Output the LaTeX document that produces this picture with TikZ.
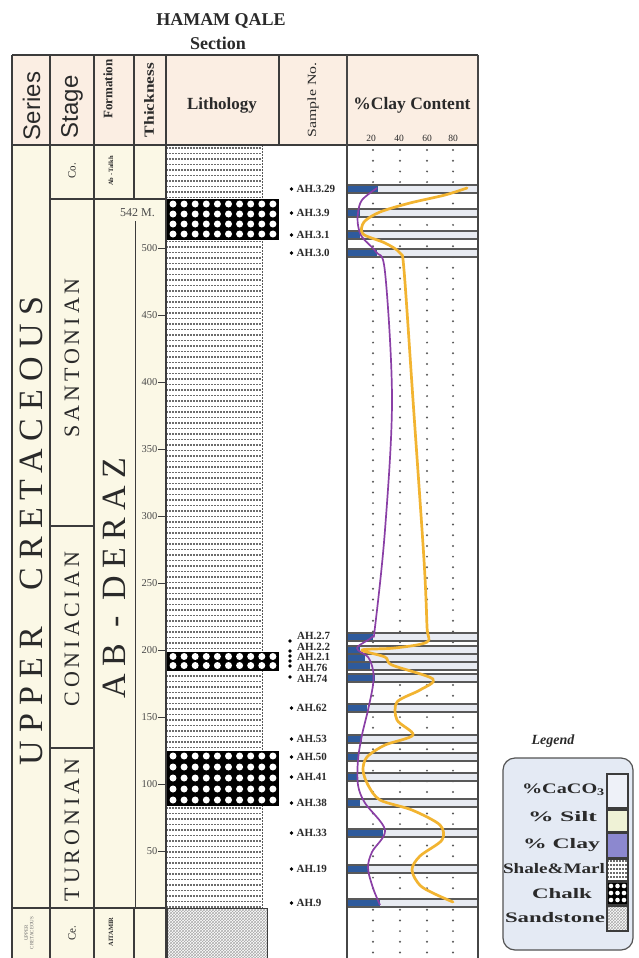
\documentclass[tikz,border=0pt]{standalone}
\usepackage{fontspec}
\setmainfont{Liberation Serif}
\newfontfamily\sansf{Liberation Sans}
\newfontfamily\spacedA[LetterSpace=24]{Liberation Serif}
\newfontfamily\spacedB[LetterSpace=18]{Liberation Serif}
\newfontfamily\spacedC[LetterSpace=22]{Liberation Serif}
\usetikzlibrary{patterns}
\definecolor{hdr}{HTML}{FBEEE3}
\definecolor{cream}{HTML}{FBF8E6}
\definecolor{ln}{HTML}{3C3C3C}
\definecolor{txt}{HTML}{2A2A2A}
\definecolor{barblue}{HTML}{2E5A9C}
\definecolor{barfill}{HTML}{E8EBF2}
\definecolor{clayc}{HTML}{8A3FA6}
\definecolor{silto}{HTML}{F2B431}
\definecolor{legbg}{HTML}{E4EAF4}
\definecolor{caco}{HTML}{EEF1F8}
\definecolor{siltc}{HTML}{EFF2D6}
\definecolor{claysw}{HTML}{8C88CF}
\newcommand\chalkbed[3]{%
  \begin{scope}
    \clip (167,#1) rectangle (278,#2);
    \fill[black] (167,#1) rectangle (278,#2);
    \foreach \cy in {#3} \foreach \cx in {0,...,9} \fill[white] ({173+\cx*11.1},\cy) circle (3.5);
  \end{scope}
  \draw[black, line width=0.8pt] (167,#1) rectangle (278,#2);
}
\newcommand\wide[2]{\resizebox{#1}{\height}{#2}}
\begin{document}
\begin{tikzpicture}[x=1pt,y=-1pt,
  gridl/.style={draw=ln, line width=1.4pt},
  hdrtext/.style={text=txt, inner sep=0pt},
  ticklab/.style={font=\fontsize{10.5}{10.5}\selectfont, text=txt!85, inner sep=0.5pt},
  samplab/.style={font=\bfseries\fontsize{11}{11}\selectfont, text=txt, anchor=west, inner sep=0pt},
  shaledots/.style={draw=gray!85!black, line width=1.7pt, dash pattern=on 1.5pt off 1.5pt},
  vdots/.style={draw=gray!70!black, line width=2.2pt, dash pattern=on 0pt off 10.7pt, line cap=round},
  legtext/.style={font=\bfseries\fontsize{14.5}{14.5}\selectfont, text=txt, inner sep=0pt},
  swatch/.style={draw=ln, line width=1.1pt}
]
\useasboundingbox (0,0) rectangle (638,958);
\fill[white] (0,0) rectangle (638,958);

% title
\node[hdrtext, font=\bfseries\fontsize{18}{18}\selectfont] (title) at (221,21) {HAMAM QALE};
\node[hdrtext, font=\bfseries\fontsize{18}{18}\selectfont] (subtitle) at (218,43) {Section};

% fills
\fill[hdr] (12,55) rectangle (478,145);
\fill[cream] (12,145) rectangle (166,958);

% header texts
\node[hdrtext, rotate=90, font=\sansf\fontsize{24}{24}\selectfont] (hseries) at (31.5,106) {Series};
\node[hdrtext, rotate=90, font=\sansf\fontsize{24}{24}\selectfont] (hstage) at (72,107) {Stage};
\node[hdrtext, rotate=90, font=\bfseries\fontsize{13}{13}\selectfont] (hform) at (108,89) {Formation};
\node[hdrtext, rotate=90, font=\bfseries\fontsize{14}{14}\selectfont] (hthick) at (149,100) {\wide{74pt}{Thickness}};
\node[hdrtext, font=\bfseries\fontsize{17}{17}\selectfont] (hlith) at (222,105) {Lithology};
\node[hdrtext, rotate=90, font=\fontsize{12.5}{12.5}\selectfont] (hsample) at (313,100) {\wide{75pt}{Sample No.}};
\node[hdrtext, font=\bfseries\fontsize{17.5}{17.5}\selectfont] (hclay) at (412,105) {\%Clay Content};
\foreach \xx/\vv in {371/20,399/40,427/60,453/80}
  \node[hdrtext, font=\fontsize{9.5}{9.5}\selectfont] (sc\vv) at (\xx,138) {\vv};

% lithology: shale background
\fill[white] (166,145) rectangle (262,908);
\begin{scope}
  \clip (166,145) rectangle (262,908);
  \foreach \yy in {148,153.5,...,908} \draw[shaledots] (166,\yy) -- (262,\yy);
\end{scope}
\draw[gray!70!black, line width=1pt, dash pattern=on 1.5pt off 1.5pt] (166,145) -- (262,145) -- (262,908);
% chalk beds
\chalkbed{199}{239}{204,214,224,234}
\chalkbed{652}{670}{656.5,665.5}
\chalkbed{751}{805}{756,767,778,789,800}
% sandstone
\fill[white] (167,908) rectangle (267,958);
\fill[pattern=crosshatch, pattern color=gray!65] (167,908) rectangle (267,958);
\draw[ln, line width=0.9pt] (167,958) -- (167,908) -- (267,908) -- (267,958);

% grid lines
\draw[gridl] (12,55) -- (478,55);
\draw[gridl] (12,145) -- (478,145);
\foreach \xx in {12,50,94,166} \draw[gridl] (\xx,55) -- (\xx,958);
\draw[gridl] (134,55) -- (134,199);
\draw[gridl] (134,908) -- (134,958);
\draw[gridl] (279,55) -- (279,145);
\draw[gridl] (50,199) -- (166,199);
\draw[gridl] (50,526) -- (94,526);
\draw[gridl] (50,748) -- (94,748);
\draw[gridl] (12,908) -- (166,908);

% thickness scale
\draw[ln, line width=1pt] (135,221) -- (135,908);
\node[ticklab, font=\fontsize{12}{12}\selectfont] (top542) at (137.5,213) {542 M.};
\foreach \m in {50,100,...,500} {
  \pgfmathsetmacro\ty{918-1.34*\m}
  \draw[ln, line width=0.9pt] (158,\ty) -- (166,\ty);
  \node[ticklab, anchor=east] (t\m) at (158,\ty) {\m};
}

% series / stage / formation labels
\node[hdrtext, rotate=90, font=\spacedA\fontsize{34}{34}\selectfont] (series) at (31,531) {UPPER\hspace{36pt}CRETACEOUS};
\node[hdrtext, rotate=90, font=\spacedB\fontsize{22}{22}\selectfont] (santon) at (72,358) {SANTONIAN};
\node[hdrtext, rotate=90, font=\spacedB\fontsize{22}{22}\selectfont] (coniac) at (72,629) {CONIACIAN};
\node[hdrtext, rotate=90, font=\spacedB\fontsize{22}{22}\selectfont] (turon) at (72,830) {TURONIAN};
\node[hdrtext, rotate=90, font=\spacedC\fontsize{34}{34}\selectfont] (abderaz) at (114.5,578) {AB - DERAZ};
\node[hdrtext, rotate=90, font=\fontsize{11}{11}\selectfont] (co) at (72,171) {Co.};
\node[hdrtext, rotate=90, font=\fontsize{11}{11}\selectfont] (ce) at (72,933) {Ce.};
\node[hdrtext, rotate=90, font=\bfseries\fontsize{6.5}{6.5}\selectfont] (abtalkh) at (111,171) {Ab - Talkh};
\node[hdrtext, rotate=90, font=\bfseries\fontsize{6.5}{6.5}\selectfont] (aitamir) at (111,932) {AITAMIR};
\node[hdrtext, rotate=90, align=center, text=txt!70, font=\fontsize{5}{5.5}\selectfont] (lowser) at (29,933) {UPPER\\CRETACEOUS};

% clay content column: dotted grid
\foreach \xx in {373,400,427,453} \draw[vdots] (\xx,150) -- (\xx,958);

% bars
\foreach \yy/\bx in {189/378,213/360,235/360,253/377,637/373,650/360,658/365,666/370,678/375,708/367,739/362,757/359,777/358,803/360,833/383,869/368,903/380} {
  \fill[barfill] (347,\yy-4) rectangle (478,\yy+4);
  \fill[barblue] (347,\yy-4) rectangle (\bx,\yy+4);
  \draw[ln!85, line width=1.6pt] (347,\yy-4) rectangle (478,\yy+4);
}

% curves
\draw[clayc, line width=1.7pt, line join=round] plot[smooth, tension=0.55] coordinates {
 (377,188) (362,200) (358,213) (358,225) (362,237) (376,252) (385,272) (392,400) (385,530) (375,627) (372,637) (357,648) (368,657) (373,670) (373,685) (368,710) (362,735) (358,760) (358,785) (365,803) (385,830) (372,852) (368,868) (373,888) (380,905)};
\draw[silto, line width=2.7pt, line join=round, line cap=round] plot[smooth, tension=0.5] coordinates {
 (467,188) (445,195) (410,203) (380,212) (364,222) (363,234) (385,243) (400,253) (404,270) (413,400) (424,560) (427,627) (427,642) (395,648) (362,650) (385,657) (392,665) (433,679) (420,690) (397,702) (397,720) (413,735) (385,745) (367,757) (363,770) (368,785) (380,800) (412,810) (440,825) (442,840) (420,856) (412,870) (422,887) (453,902)};

% clay column borders
\draw[gray!55!black, line width=2pt] (347,55) -- (347,958);
\draw[gray!55!black, line width=2pt] (478,55) -- (478,958);

% samples
\foreach \yy/\lab/\nm in {189/AH.3.29/a,213/AH.3.9/b,235/AH.3.1/c,253/AH.3.0/d,708/AH.62/j,739/AH.53/k,757/AH.50/l,777/AH.41/m,803/AH.38/n,833/AH.33/o,869/AH.19/p,903/AH.9/q} {
  \fill[black] (291.5,\yy) circle (1.9);
  \node[samplab] (smp\nm) at (296.5,\yy) {\lab};
}
\foreach \yy/\lab/\nm in {636/AH.2.7/e,647/AH.2.2/f,657/AH.2.1/g,668/AH.76/h,679/AH.74/i}
  \node[samplab] (smp\nm) at (297,\yy) {\lab};
\foreach \yy in {641,651,656,661,666,677} \fill[black] (290,\yy) circle (1.9);

% legend
\node[font=\bfseries\itshape\fontsize{14}{14}\selectfont, text=txt, inner sep=0pt] (legtitle) at (553,741) {Legend};
\draw[rounded corners=12pt, fill=legbg, draw=gray!65!black, line width=1.2pt] (503,758) rectangle (633,950);
\fill[caco] (607,774) rectangle (628,808); \draw[swatch] (607,774) rectangle (628,808);
\fill[siltc] (607,810) rectangle (628,832); \draw[swatch] (607,810) rectangle (628,832);
\fill[claysw] (607,833) rectangle (628,858); \draw[swatch] (607,833) rectangle (628,858);
\fill[white] (607,859) rectangle (628,881);
\begin{scope}
  \clip (607,859) rectangle (628,881);
  \foreach \yy in {861,865,...,881} \draw[shaledots, line width=1.2pt] (607,\yy) -- (628,\yy);
\end{scope}
\draw[swatch] (607,859) rectangle (628,881);
\begin{scope}
  \clip (607,882) rectangle (628,905);
  \fill[black] (607,882) rectangle (628,905);
  \foreach \cy in {886,893,900} \foreach \cx in {611,617.5,624} \fill[white] (\cx,\cy) circle (2.3);
\end{scope}
\draw[swatch] (607,882) rectangle (628,905);
\fill[white] (607,906) rectangle (628,931);
\fill[pattern=crosshatch, pattern color=gray!65] (607,906) rectangle (628,931);
\draw[swatch] (607,906) rectangle (628,931);
\node[legtext] (lg1) at (563.5,790) {\wide{83pt}{\%CaCO$_{\mathbf 3}$}};
\node[legtext] (lg2) at (562.5,817) {\wide{69pt}{\% Silt}};
\node[legtext] (lg3) at (561.5,845) {\wide{77pt}{\% Clay}};
\node[legtext] (lg4) at (554,869) {\wide{102pt}{Shale\&Marl}};
\node[legtext] (lg5) at (562,894) {\wide{60pt}{Chalk}};
\node[legtext] (lg6) at (555,918) {\wide{100pt}{Sandstone}};
\end{tikzpicture}
\end{document}
